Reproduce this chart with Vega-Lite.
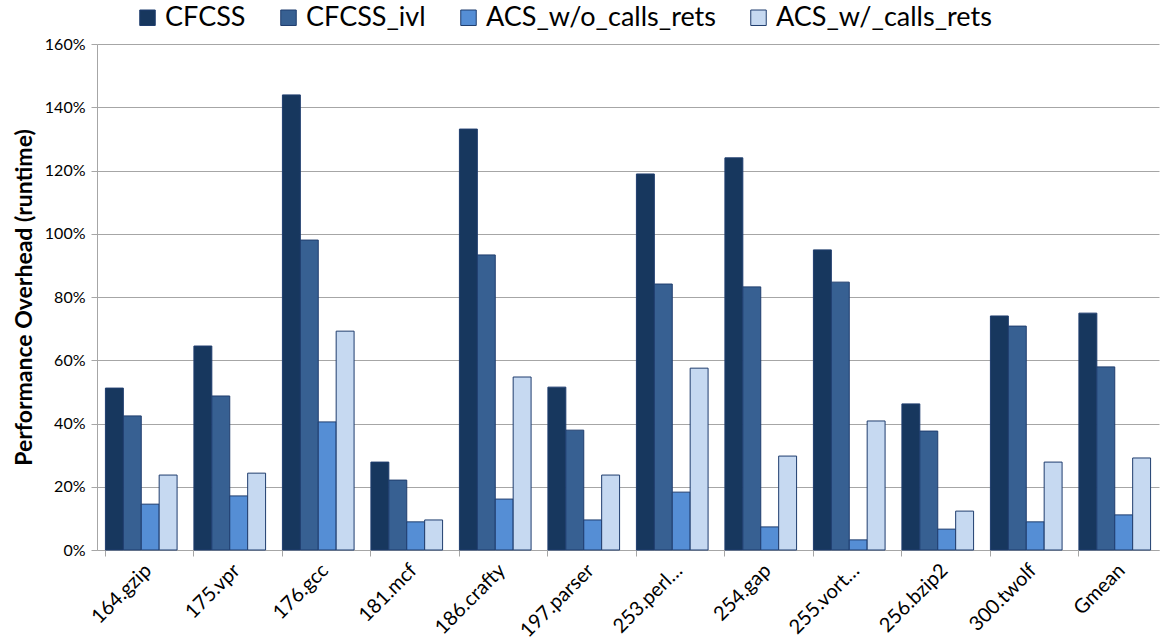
{
  "$schema": "https://vega.github.io/schema/vega-lite/v6.json",
  "autosize": {"type": "none"},
  "padding": {"left": 97, "top": 44, "right": 1, "bottom": 93},
  "width": 1062,
  "height": 506,
  "background": "white",
  "data": {"values": [
    {"bench": "164.gzip", "series": "CFCSS", "v": 51.2},
    {"bench": "164.gzip", "series": "CFCSS_ivl", "v": 42.4},
    {"bench": "164.gzip", "series": "ACS_w/o_calls_rets", "v": 14.5},
    {"bench": "164.gzip", "series": "ACS_w/_calls_rets", "v": 23.7},
    {"bench": "175.vpr", "series": "CFCSS", "v": 64.5},
    {"bench": "175.vpr", "series": "CFCSS_ivl", "v": 48.7},
    {"bench": "175.vpr", "series": "ACS_w/o_calls_rets", "v": 17.1},
    {"bench": "175.vpr", "series": "ACS_w/_calls_rets", "v": 24.3},
    {"bench": "176.gcc", "series": "CFCSS", "v": 143.9},
    {"bench": "176.gcc", "series": "CFCSS_ivl", "v": 98.0},
    {"bench": "176.gcc", "series": "ACS_w/o_calls_rets", "v": 40.5},
    {"bench": "176.gcc", "series": "ACS_w/_calls_rets", "v": 69.2},
    {"bench": "181.mcf", "series": "CFCSS", "v": 27.8},
    {"bench": "181.mcf", "series": "CFCSS_ivl", "v": 22.1},
    {"bench": "181.mcf", "series": "ACS_w/o_calls_rets", "v": 8.9},
    {"bench": "181.mcf", "series": "ACS_w/_calls_rets", "v": 9.5},
    {"bench": "186.crafty", "series": "CFCSS", "v": 133.1},
    {"bench": "186.crafty", "series": "CFCSS_ivl", "v": 93.3},
    {"bench": "186.crafty", "series": "ACS_w/o_calls_rets", "v": 16.1},
    {"bench": "186.crafty", "series": "ACS_w/_calls_rets", "v": 54.7},
    {"bench": "197.parser", "series": "CFCSS", "v": 51.5},
    {"bench": "197.parser", "series": "CFCSS_ivl", "v": 37.9},
    {"bench": "197.parser", "series": "ACS_w/o_calls_rets", "v": 9.5},
    {"bench": "197.parser", "series": "ACS_w/_calls_rets", "v": 23.7},
    {"bench": "253.perl…", "series": "CFCSS", "v": 118.9},
    {"bench": "253.perl…", "series": "CFCSS_ivl", "v": 84.1},
    {"bench": "253.perl…", "series": "ACS_w/o_calls_rets", "v": 18.3},
    {"bench": "253.perl…", "series": "ACS_w/_calls_rets", "v": 57.5},
    {"bench": "254.gap", "series": "CFCSS", "v": 124.0},
    {"bench": "254.gap", "series": "CFCSS_ivl", "v": 83.2},
    {"bench": "254.gap", "series": "ACS_w/o_calls_rets", "v": 7.3},
    {"bench": "254.gap", "series": "ACS_w/_calls_rets", "v": 29.7},
    {"bench": "255.vort…", "series": "CFCSS", "v": 94.9},
    {"bench": "255.vort…", "series": "CFCSS_ivl", "v": 84.7},
    {"bench": "255.vort…", "series": "ACS_w/o_calls_rets", "v": 3.2},
    {"bench": "255.vort…", "series": "ACS_w/_calls_rets", "v": 40.8},
    {"bench": "256.bzip2", "series": "CFCSS", "v": 46.2},
    {"bench": "256.bzip2", "series": "CFCSS_ivl", "v": 37.6},
    {"bench": "256.bzip2", "series": "ACS_w/o_calls_rets", "v": 6.6},
    {"bench": "256.bzip2", "series": "ACS_w/_calls_rets", "v": 12.3},
    {"bench": "300.twolf", "series": "CFCSS", "v": 74.0},
    {"bench": "300.twolf", "series": "CFCSS_ivl", "v": 70.8},
    {"bench": "300.twolf", "series": "ACS_w/o_calls_rets", "v": 8.9},
    {"bench": "300.twolf", "series": "ACS_w/_calls_rets", "v": 27.8},
    {"bench": "Gmean", "series": "CFCSS", "v": 74.9},
    {"bench": "Gmean", "series": "CFCSS_ivl", "v": 57.9},
    {"bench": "Gmean", "series": "ACS_w/o_calls_rets", "v": 11.1},
    {"bench": "Gmean", "series": "ACS_w/_calls_rets", "v": 29.1}
  ]},
  "mark": {"type": "bar", "stroke": "#1F3D6E", "strokeWidth": 1},
  "encoding": {
    "x": {
      "field": "bench", "type": "nominal", "sort": null,
      "scale": {"paddingInner": 0.19, "paddingOuter": 0.095},
      "axis": {
        "title": null, "labelAngle": -45, "labelAlign": "right", "labelBaseline": "top",
        "labelFont": "Lato", "labelFontSize": 20, "labelColor": "#000000",
        "labelPadding": 4,
        "bandPosition": 0, "ticks": true, "tickColor": "#A6A6A6", "tickSize": 6,
        "domainColor": "#A6A6A6", "grid": false
      }
    },
    "xOffset": {"field": "series", "type": "nominal", "sort": ["CFCSS", "CFCSS_ivl", "ACS_w/o_calls_rets", "ACS_w/_calls_rets"], "scale": {"paddingInner": 0, "paddingOuter": 0}},
    "y": {
      "field": "v", "type": "quantitative",
      "scale": {"domain": [0, 160], "nice": false},
      "axis": {
        "title": "Performance Overhead (runtime)", "titleFont": "Lato", "titleFontSize": 23, "titleFontWeight": "bold", "titleColor": "#000000", "titlePadding": 8,
        "values": [0, 20, 40, 60, 80, 100, 120, 140, 160],
        "labelExpr": "datum.value + '%'",
        "labelFont": "Lato", "labelFontSize": 16, "labelColor": "#000000", "labelPadding": 6,
        "tickColor": "#A6A6A6", "tickSize": 6, "domainColor": "#A6A6A6",
        "gridColor": "#A6A6A6", "gridWidth": 1
      }
    },
    "color": {
      "field": "series", "type": "nominal",
      "scale": {"domain": ["CFCSS", "CFCSS_ivl", "ACS_w/o_calls_rets", "ACS_w/_calls_rets"], "range": ["#17375E", "#376092", "#558ED5", "#C6D9F1"]},
      "legend": {
        "title": null, "orient": "none", "direction": "horizontal",
        "legendX": 37, "legendY": -40,
        "symbolType": "square", "symbolSize": 240, "symbolStrokeColor": "#1F3D6E", "symbolStrokeWidth": 1,
        "labelFont": "Lato", "labelFontSize": 27, "labelColor": "#000000", "labelLimit": 500,
        "columnPadding": 29, "labelOffset": 4
      }
    }
  },
  "config": {"view": {"stroke": null}}
}
